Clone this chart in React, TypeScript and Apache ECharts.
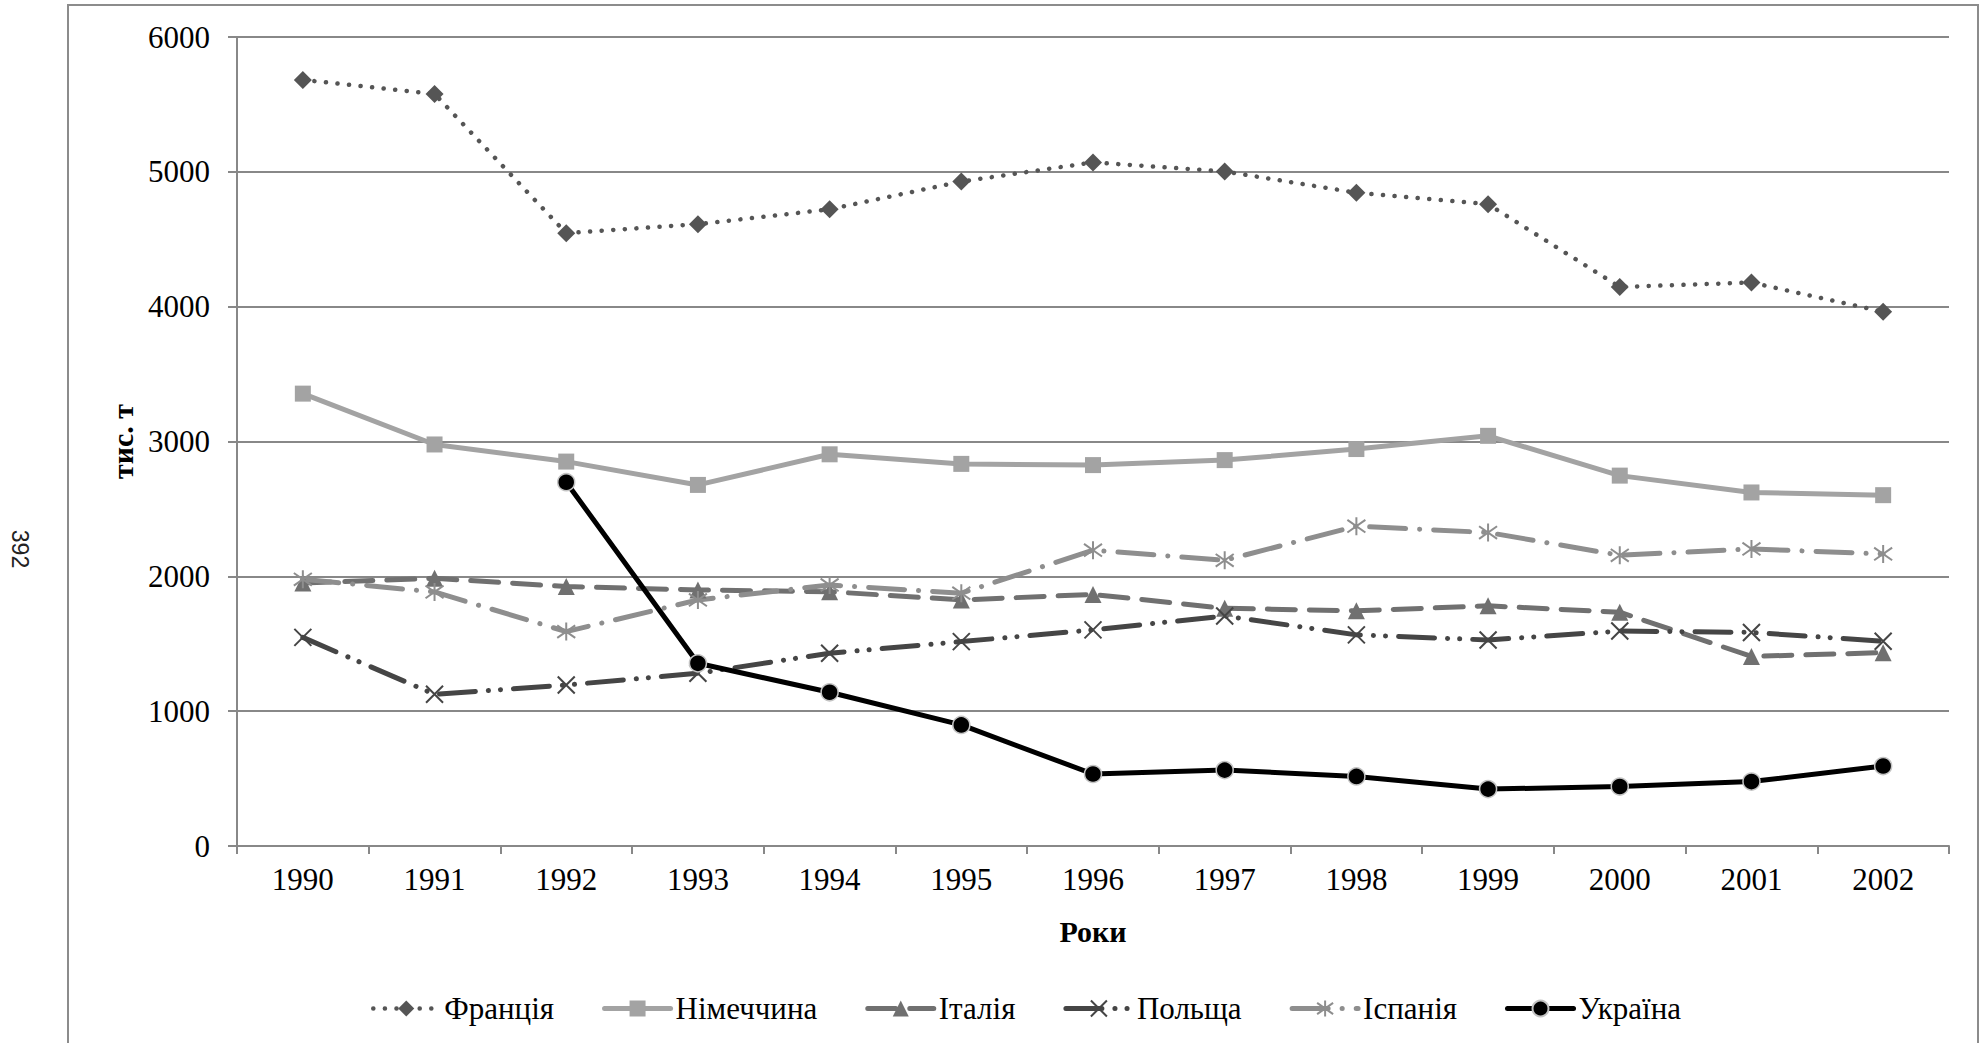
import React, { useEffect, useRef } from 'react';
import * as echarts from 'echarts';

const years = ['1990', '1991', '1992', '1993', '1994', '1995', '1996', '1997', '1998', '1999', '2000', '2001', '2002'];
const yTicks = [0, 1000, 2000, 3000, 4000, 5000, 6000];

const france = [5682, 5578, 4545, 4612, 4722, 4928, 5070, 5003, 4845, 4760, 4146, 4179, 3962];
const germany = [3355, 2978, 2851, 2678, 2905, 2834, 2825, 2862, 2944, 3042, 2747, 2622, 2602];
const italy = [1950, 1985, 1924, 1899, 1886, 1825, 1866, 1763, 1744, 1781, 1734, 1406, 1434];
const poland = [1547, 1125, 1194, 1281, 1430, 1516, 1603, 1706, 1566, 1528, 1594, 1584, 1519];
const spain = [1978, 1884, 1590, 1825, 1936, 1875, 2194, 2119, 2372, 2325, 2156, 2203, 2166];
const ukraine = [null, null, 2698, 1355, 1140, 898, 534, 563, 516, 422, 441, 478, 593];

const seriesNames = ['Франція', 'Німеччина', 'Італія', 'Польща', 'Іспанія', 'Україна'];

const SERIF = '"Liberation Serif", "Times New Roman", serif';
const AXIS_GRAY = '#888888';

export default function App() {
  const ref = useRef<HTMLDivElement>(null);
  useEffect(() => {
    const chart = echarts.init(ref.current!, null, { renderer: 'svg' });
    const crossPath = 'path://M0,0L10,10M10,0L0,10';
    const starPath = 'path://M5,0L5,10M0,1.5L10,8.5M10,1.5L0,8.5';
    const styles = [
      { color: '#555555', width: 4.5, type: [0.1, 11.5] as any, symbol: 'diamond', size: 18 },
      { color: '#a3a3a3', width: 5, type: 'solid' as any, symbol: 'rect', size: 16 },
      { color: '#707070', width: 5, type: [28, 14] as any, symbol: 'triangle', size: 17 },
      { color: '#454545', width: 5, type: [36, 13, 0.1, 12, 0.1, 13] as any, symbol: crossPath, size: 17 },
      { color: '#8e8e8e', width: 5, type: [36, 14, 0.1, 14] as any, symbol: starPath, size: 18 },
      { color: '#000000', width: 5, type: 'solid' as any, symbol: 'circle', size: 17 },
    ];
    const datasets = [france, germany, italy, poland, spain, ukraine];
    const series = datasets.map((d, i) => {
      const s = styles[i];
      const isStroke = i === 3 || i === 4;
      return {
        name: seriesNames[i],
        type: 'line',
        data: d,
        symbol: s.symbol,
        symbolSize: s.size,
        connectNulls: false,
        itemStyle:
          i === 5
            ? { color: '#000000', borderColor: '#c4c4c4', borderWidth: 1.5 }
            : isStroke
            ? { color: s.color, borderColor: s.color, borderWidth: 2 }
            : { color: s.color },
        lineStyle: { color: s.color, width: s.width, type: s.type, cap: 'round' },
      };
    });
    chart.setOption({
      animation: false,
      backgroundColor: '#ffffff',
      textStyle: { fontFamily: SERIF },
      graphic: [
        {
          type: 'rect',
          shape: { x: 68, y: 5, width: 1910, height: 1060 },
          style: { fill: 'none', stroke: '#8c8c8c', lineWidth: 2 },
          silent: true,
        },
        {
          type: 'text',
          x: 20,
          y: 549,
          rotation: -Math.PI / 2,
          style: {
            text: '392',
            font: '23px "Liberation Sans"',
            fill: '#222222',
            textAlign: 'center',
            textVerticalAlign: 'middle',
          },
        },
      ],
      grid: { left: 237, right: 32, top: 37, bottom: 197 },
      legend: {
        data: seriesNames.map((n, i) => ({
          name: n,
          lineStyle: { width: styles[i].width, type: styles[i].type, cap: 'round', color: styles[i].color },
        })),
        left: 366,
        top: 988,
        itemWidth: 66,
        itemHeight: 20,
        itemGap: 48,
        textStyle: { fontFamily: SERIF, fontSize: 31, color: '#000' },
      },
      xAxis: {
        type: 'category',
        data: years,
        boundaryGap: true,
        name: 'Роки',
        nameLocation: 'middle',
        nameGap: 70,
        nameTextStyle: { fontFamily: SERIF, fontSize: 30, fontWeight: 'bold', color: '#000' },
        axisLine: { lineStyle: { color: AXIS_GRAY, width: 2 } },
        axisTick: { show: true, length: 8, alignWithLabel: false, lineStyle: { color: AXIS_GRAY, width: 2 } },
        axisLabel: { fontFamily: SERIF, fontSize: 31, color: '#000', margin: 18 },
        splitLine: { show: false },
      },
      yAxis: {
        type: 'value',
        min: yTicks[0],
        max: yTicks[yTicks.length - 1],
        interval: 1000,
        name: 'тис. т',
        nameLocation: 'middle',
        nameGap: 96,
        nameRotate: 90,
        nameTextStyle: { fontFamily: SERIF, fontSize: 30, fontWeight: 'bold', color: '#000' },
        axisLine: { show: true, lineStyle: { color: AXIS_GRAY, width: 2 } },
        axisTick: { show: true, length: 9, lineStyle: { color: AXIS_GRAY, width: 2 } },
        axisLabel: {
          fontFamily: SERIF,
          fontSize: 31,
          color: '#000',
          margin: 27,
          formatter: (v: number) => String(v),
        },
        splitLine: { show: true, lineStyle: { color: AXIS_GRAY, width: 2 } },
      },
      series,
    });
    return () => chart.dispose();
  }, []);
  return (
    <div
      ref={ref}
      style={{ position: 'fixed', left: 0, top: 0, width: 1981, height: 1043, background: '#fff' }}
    />
  );
}
